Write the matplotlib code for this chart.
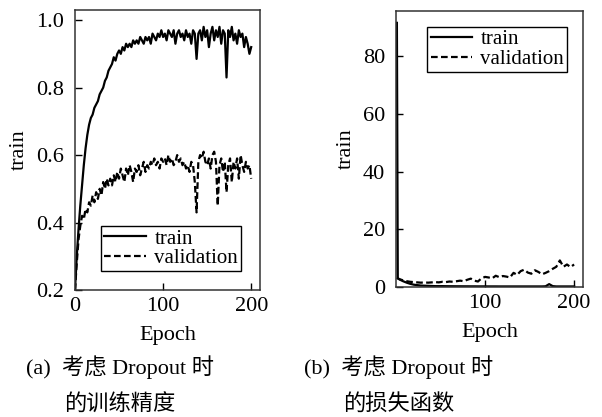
import matplotlib
matplotlib.use('Agg')
import matplotlib.pyplot as plt
import numpy as np

# accuracy, read every 2 epochs (0..200)
acc_epoch = np.arange(0, 201, 2)
train_acc = [
    0.20, 0.30, 0.38, 0.45, 0.51, 0.57, 0.62, 0.66, 0.69, 0.71,
    0.72, 0.74, 0.75, 0.76, 0.78, 0.79, 0.80, 0.82, 0.83, 0.85,
    0.86, 0.87, 0.89, 0.88, 0.90, 0.91, 0.90, 0.92, 0.91, 0.93,
    0.92, 0.93, 0.92, 0.94, 0.93, 0.94, 0.93, 0.95, 0.94, 0.93,
    0.95, 0.94, 0.95, 0.93, 0.96, 0.95, 0.94, 0.96, 0.95, 0.97,
    0.95, 0.96, 0.94, 0.97, 0.96, 0.95, 0.97, 0.93, 0.96, 0.97,
    0.95, 0.96, 0.94, 0.97, 0.95, 0.96, 0.93, 0.97, 0.96, 0.885,
    0.96, 0.97, 0.94, 0.98, 0.95, 0.97, 0.92, 0.96, 0.98, 0.94,
    0.97, 0.95, 0.98, 0.93, 0.97, 0.96, 0.83, 0.97, 0.95, 0.98,
    0.94, 0.96, 0.93, 0.97, 0.95, 0.96, 0.92, 0.95, 0.93, 0.90,
    0.92,
]
val_acc = [
    0.20, 0.28, 0.35, 0.39, 0.42, 0.41, 0.44, 0.43, 0.46, 0.45,
    0.48, 0.46, 0.49, 0.47, 0.50, 0.48, 0.52, 0.50, 0.53, 0.51,
    0.53, 0.51, 0.54, 0.52, 0.55, 0.53, 0.56, 0.54, 0.52, 0.56,
    0.54, 0.57, 0.55, 0.52, 0.56, 0.55, 0.57, 0.54, 0.56, 0.58,
    0.55, 0.57, 0.56, 0.58, 0.57, 0.59, 0.57, 0.58, 0.56, 0.59,
    0.58, 0.59, 0.57, 0.60, 0.58, 0.59, 0.57, 0.58, 0.60, 0.58,
    0.59, 0.57, 0.58, 0.56, 0.57, 0.55, 0.58, 0.57, 0.52, 0.43,
    0.58, 0.60, 0.59, 0.61, 0.58, 0.57, 0.59, 0.56, 0.60, 0.61,
    0.58, 0.45, 0.57, 0.59, 0.55, 0.58, 0.49, 0.57, 0.59, 0.52,
    0.58, 0.56, 0.59, 0.53, 0.60, 0.57, 0.55, 0.58, 0.56, 0.57,
    0.53,
]

# loss
loss_epoch = [1, 2] + list(range(4, 201, 4))
train_loss = [
    91.5, 3.0, 2.6, 2.0, 1.5, 1.1, 0.8, 0.65, 0.5, 0.45,
    0.4, 0.35, 0.3, 0.3, 0.3, 0.28, 0.27, 0.26, 0.25, 0.25,
    0.24, 0.24, 0.23, 0.23, 0.22, 0.22, 0.22, 0.21, 0.21, 0.21,
    0.2, 0.2, 0.2, 0.2, 0.2, 0.2, 0.2, 0.2, 0.2, 0.2,
    0.2, 0.2, 0.2, 0.25, 1.0, 0.3, 0.2, 0.2, 0.2, 0.2,
    0.2, 0.2,
]
val_loss = [
    3.2, 3.0, 2.7, 2.3, 2.0, 1.8, 1.7, 1.6, 1.5, 1.6,
    1.5, 1.6, 1.7, 1.6, 1.8, 1.7, 1.9, 1.8, 2.0, 2.2,
    2.0, 2.5, 2.9, 2.2, 1.9, 3.0, 3.5, 3.3, 3.0, 3.9,
    3.4, 3.8, 3.6, 3.3, 4.9, 4.2, 5.5, 6.0, 5.0, 4.6,
    5.8, 5.2, 4.4, 4.9, 5.5, 6.3, 7.0, 9.2, 7.0, 7.8,
    6.9, 7.8,
]

captions = [('(a)  考虑 Dropout 时', '的训练精度'),
            ('(b)  考虑 Dropout 时', '的损失函数')]

plt.rcParams['font.family'] = ['Liberation Serif', 'Noto Sans CJK SC']
plt.rcParams['font.size'] = 16

W, H = 602, 417
fig = plt.figure(figsize=(W / 100, H / 100), dpi=100)

dash = (0, (3, 1.5))


def style_axes(ax):
    for s in ax.spines.values():
        s.set_linewidth(1.1)
        s.set_color('#333333')
    ax.tick_params(direction='in', length=5, width=1, labelsize=16)
    ax.tick_params(axis='x', pad=5)
    ax.tick_params(axis='y', pad=8)
    ax.set_xlabel('Epoch', labelpad=7)
    ax.set_ylabel('train', labelpad=5)


def add_legend(ax, loc, pad):
    leg = ax.legend(loc=loc, fancybox=False, edgecolor='black', fontsize=15,
                    framealpha=1, handlelength=2.0, labelspacing=0.0,
                    borderpad=0.15, handletextpad=0.4, borderaxespad=pad)
    leg.get_frame().set_linewidth(1)


ax1 = fig.add_axes([75 / W, 1 - 290 / H, 185 / W, 280 / H])
ax1.plot(acc_epoch, train_acc, color='black', lw=1.6, label='train')
ax1.plot(acc_epoch, val_acc, color='black', lw=1.6, ls=dash, label='validation')
ax1.set_xlim(0, 210)
ax1.set_ylim(0.2, 1.03)
ax1.set_xticks([0, 100, 200])
ax1.set_yticks([0.2, 0.4, 0.6, 0.8, 1.0])
style_axes(ax1)
add_legend(ax1, 'lower right', 0.9)

ax2 = fig.add_axes([396 / W, 1 - 287 / H, 187 / W, 276 / H])
ax2.plot(loss_epoch, train_loss, color='black', lw=1.6, label='train')
ax2.plot(loss_epoch, val_loss, color='black', lw=1.6, ls=dash, label='validation')
ax2.set_xlim(0, 210)
ax2.set_ylim(0, 95.6)
ax2.set_xticks([100, 200])
ax2.set_yticks([0, 20, 40, 60, 80])
style_axes(ax2)
add_legend(ax2, 'upper right', 0.75)

for cx, (line1, line2) in zip([120, 399], captions):
    fig.text(cx / W, 1 - 367 / H, line1, ha='center', va='center', fontsize=16)
    fig.text(cx / W, 1 - 405 / H, line2, ha='center', va='center', fontsize=16)

fig.savefig('out.png', dpi=100)
